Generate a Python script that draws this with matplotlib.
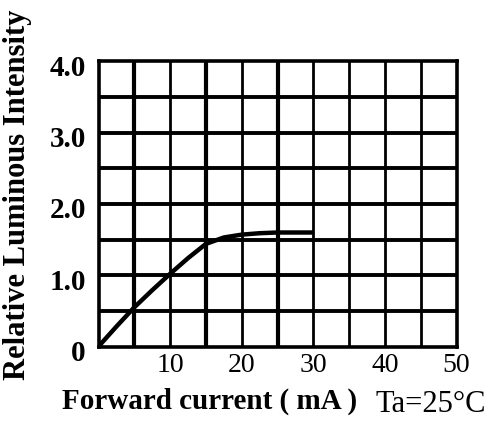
import matplotlib.pyplot as plt
import matplotlib.transforms as mtransforms
import numpy as np

# curve
current = [0, 2.5, 5, 7.5, 10, 12.5, 15, 17.5, 20, 22.5, 25, 27.5, 30]
intensity = [0, 0.28, 0.55, 0.79, 1.02, 1.24, 1.44, 1.53, 1.57, 1.59, 1.6, 1.6, 1.6]

x_ticks = [10, 20, 30, 40, 50]
y_ticks = [0, 1, 2, 3, 4]
y_labels = ["0", "1.0", "2.0", "3.0", "4.0"]

plt.rcParams["font.family"] = ["Liberation Serif", "DejaVu Serif"]

fig = plt.figure(figsize=(4.96, 4.21), dpi=100)
ax = fig.add_axes([98.5 / 496, 1 - 346.5 / 421, 358 / 496, 285 / 421])
ax.set_xlim(0, 50)
ax.set_ylim(0, 4)

# grid, some verticals drawn heavier like the scan
for gx in np.arange(5, 50, 5):
    lw = 3.0 if gx in (5, 15, 25) else 2.0
    ax.axvline(gx, color="black", lw=lw, zorder=1)
for gy in np.arange(0.5, 4, 0.5):
    ax.axhline(gy, color="black", lw=2.8, zorder=1)

for s in ax.spines.values():
    s.set_linewidth(2.6)

ax.plot(current, intensity, color="black", lw=3.2, zorder=3, solid_capstyle="butt")

ax.set_xticks(x_ticks)
ax.set_xticklabels([str(v) for v in x_ticks], fontsize=20)
ax.set_yticks(y_ticks)
ax.set_yticklabels(y_labels, fontsize=21, fontweight="bold")
ax.tick_params(length=0, pad=5)
ax.tick_params(axis="y", pad=9)

# y labels sit a bit below their lines in the original
shift = mtransforms.ScaledTranslation(0, -4 / 100, fig.dpi_scale_trans)
for lab in ax.get_yticklabels():
    lab.set_transform(lab.get_transform() + shift)

fig.text(62 / 496, 1 - 401 / 421, "Forward current ( mA )", fontsize=21,
         fontweight="bold", ha="left", va="center")
fig.text(376 / 496, 1 - 404 / 421, "Ta=25°C", fontsize=22, ha="left", va="center")
fig.text(18 / 496, 1 - 195 / 421, "Relative Luminous Intensity", fontsize=22,
         fontweight="bold", rotation=90, ha="center", va="center")

fig.savefig("out.png", dpi=100)
